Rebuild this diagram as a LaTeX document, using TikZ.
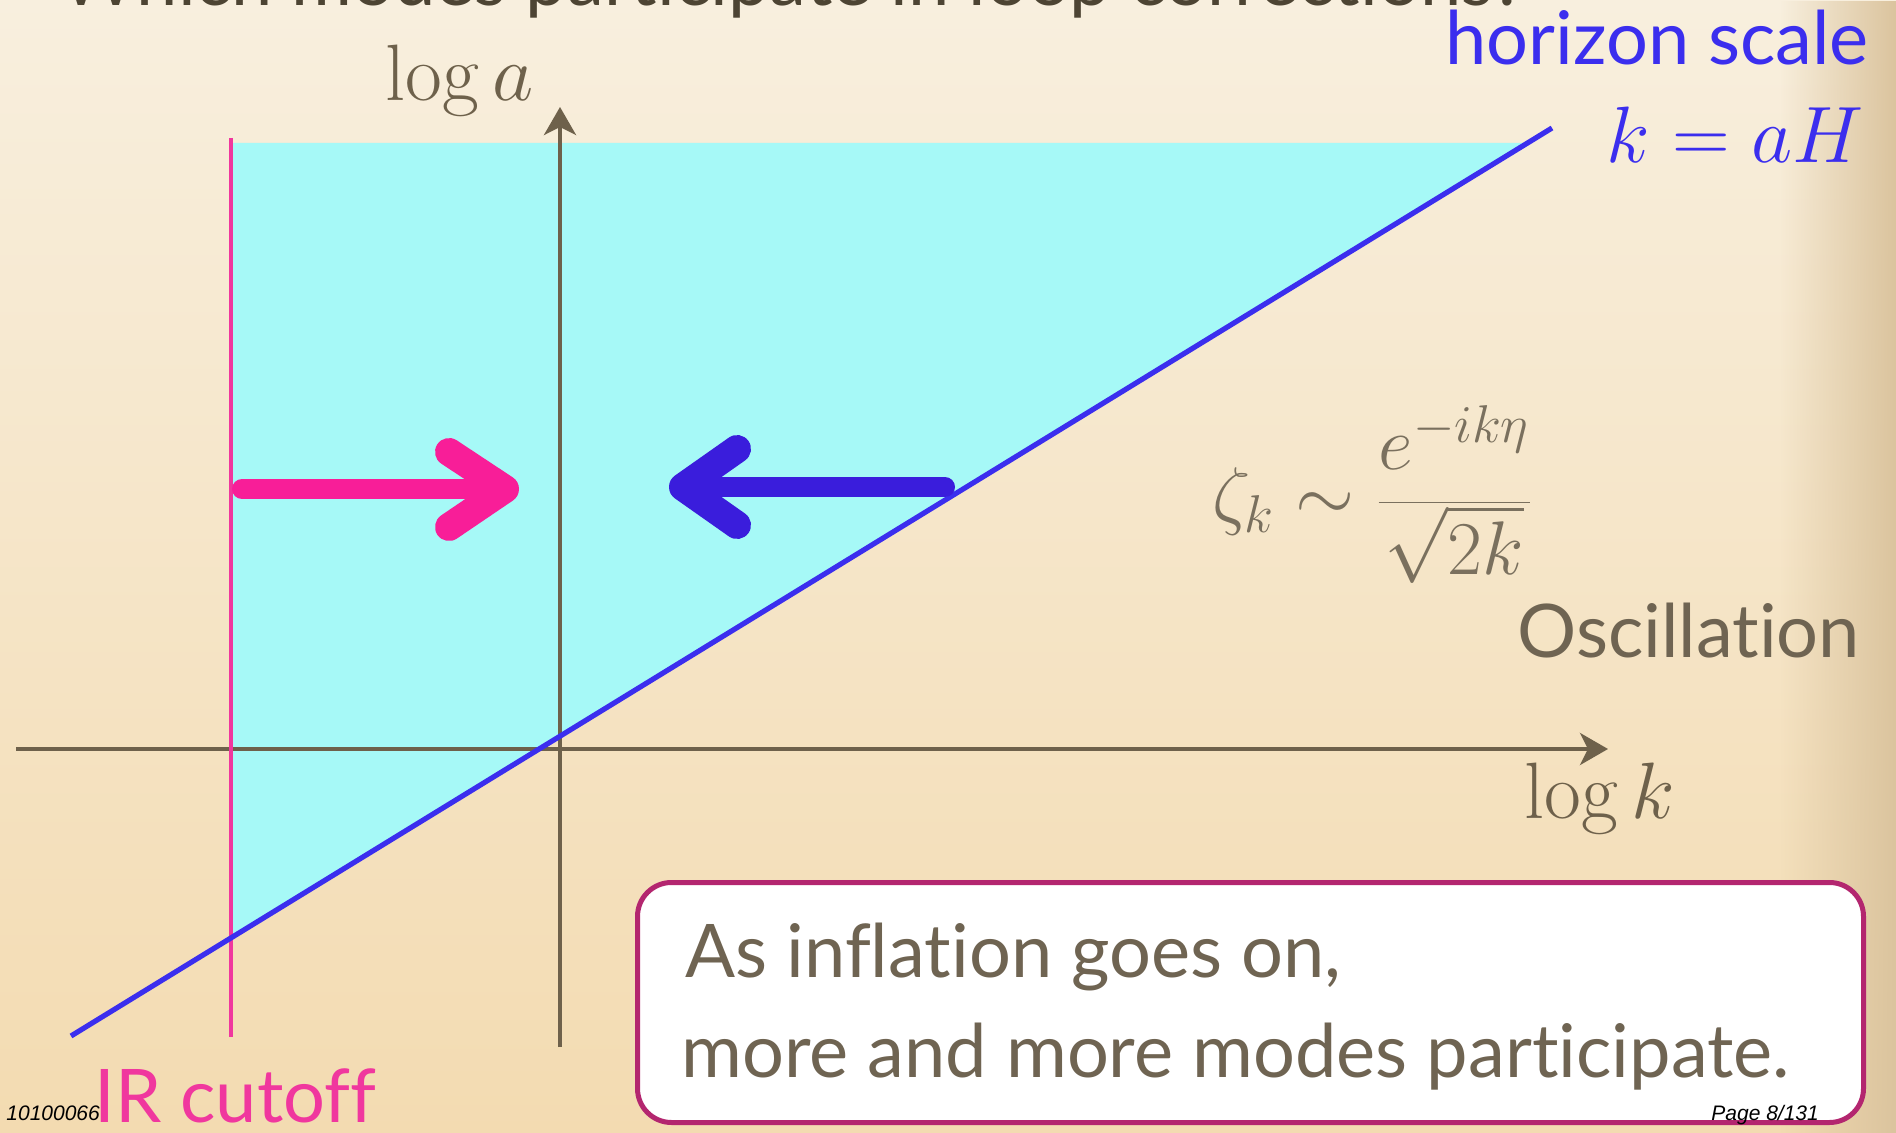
\documentclass[tikz,border=0pt]{standalone}
\usepackage{fix-cm}
\usepackage{fontspec}
\newfontfamily\lato[Ligatures=NoCommon]{Lato}
\newfontfamily\arialf{Liberation Sans}
\usetikzlibrary{arrows.meta,fadings}
\definecolor{bgtop}{HTML}{F8EFDE}
\definecolor{bgbot}{HTML}{F3DBB1}
\definecolor{bgedge}{HTML}{DBC49E}
\definecolor{cyanfill}{HTML}{A6F9F7}
\definecolor{hblue}{HTML}{3B2EEE}
\definecolor{arrblue}{HTML}{3A1DDC}
\definecolor{irpink}{HTML}{F0379E}
\definecolor{arrpink}{HTML}{F81E98}
\definecolor{axiscol}{HTML}{6E614B}
\definecolor{textcol}{HTML}{6F6452}
\definecolor{mathcol}{HTML}{7A705E}
\definecolor{titlecol}{HTML}{4D4433}
\definecolor{boxborder}{HTML}{B3266F}
\tikzfading[name=rightedge, left color=transparent!100, right color=transparent!0]
\tikzset{
  sanstext/.style={font=\lato\fontsize{37}{44}\selectfont, inner sep=0pt, anchor=base west},
  mathtext/.style={font=\fontsize{40}{48}\selectfont, inner sep=0pt, anchor=base west},
  formtext/.style={font=\fontsize{38}{46}\selectfont, inner sep=0pt, anchor=base west},
  smalltext/.style={font=\arialf\itshape\fontsize{10.5}{12}\selectfont, inner sep=0pt, anchor=base west, text=black},
  axisline/.style={draw=axiscol, line width=2pt, -{Stealth[length=14pt,width=16pt,inset=4pt]}},
  marker/.style={line width=10pt, line cap=round, line join=round},
  barb/.style={line width=14pt, line cap=round, line join=round},
}
\begin{document}
\begin{tikzpicture}
\fill[top color=bgtop, bottom color=bgbot] (0,0) rectangle (948pt,-566.5pt);
\fill[bgedge, path fading=rightedge] (890pt,0) rectangle (948pt,-566.5pt);
\useasboundingbox (0,0) rectangle (948pt,-566.5pt);
\begin{scope}[x=0.5pt,y=-0.5pt]
\clip (0,0) rectangle (1896,1133);
% title (cut off at the top)
\node[sanstext, text=titlecol] (title) at (60,6) {Which modes participate in loop corrections?};
% key points
\coordinate (O) at (560,749);
\coordinate (xL) at (16,749);
\coordinate (xR) at (1608,749);
\coordinate (yB) at (560,1047);
\coordinate (yT) at (560,107);
\coordinate (irT) at (231,138);
\coordinate (irB) at (231,1037);
\coordinate (hL) at (71,1036);
\coordinate (hR) at (1552,128);
\coordinate (cA) at (231,143);
\coordinate (cB) at (1527,143);
\coordinate (cC) at (231,938);
% shaded region
\fill[cyanfill] (cA) -- (cB) -- (cC) -- cycle;
% axes
\draw[axisline] (xL) -- (xR);
\draw[axisline] (yB) -- (yT);
% IR cutoff line
\draw[irpink, line width=2pt] (irT) -- (irB);
% horizon line
\draw[hblue, line width=2.6pt] (hL) -- (hR);
% pink arrow
\coordinate (pS) at (242,489);
\coordinate (pT) at (505,489);
\coordinate (pU) at (449,452);
\coordinate (pD) at (449,527);
\draw[arrpink, marker] (pS) -- (pT);
\draw[arrpink, barb] (pU) -- (pT) -- (pD);
% blue arrow
\coordinate (bS) at (945,487);
\coordinate (bT) at (683,487);
\coordinate (bU) at (737,449);
\coordinate (bD) at (737,525);
\draw[arrblue, marker] (bS) -- (bT);
\draw[arrblue, barb] (bU) -- (bT) -- (bD);
% labels
\node[mathtext, text=axiscol] (loga) at (385,101) {$\log a$};
\node[mathtext, text=axiscol] (logk) at (1524,818) {$\log k$};
\node[sanstext, text=hblue] (hs) at (1445,65) {horizon scale};
\node[mathtext, text=hblue] (kaH) at (1606,163) {$k=aH$};
\node[formtext, text=mathcol] (zeta) at (1212,521) {$\displaystyle \zeta_k \sim \frac{e^{-ik\eta}}{\sqrt{2k}}$};
\node[sanstext, text=textcol] (osc) at (1517,658) {Oscillation};
\node[sanstext, text=irpink] (ir) at (94,1122) {IR cutoff};
% box
\node[draw=boxborder, line width=2.5pt, fill=white, rounded corners=17pt,
      minimum width=613pt, minimum height=120pt, inner sep=0pt, anchor=north west] (box) at (635,880) {};
\node[sanstext, text=textcol] (line1) at (685,977) {As inflation goes on,};
\node[sanstext, text=textcol] (line2) at (681,1077) {more and more modes participate.};
% footer
\node[smalltext] (id) at (6,1120) {10100066};
\node[smalltext] (page) at (1711,1120) {Page 8/131};
\end{scope}
\end{tikzpicture}
\end{document}
